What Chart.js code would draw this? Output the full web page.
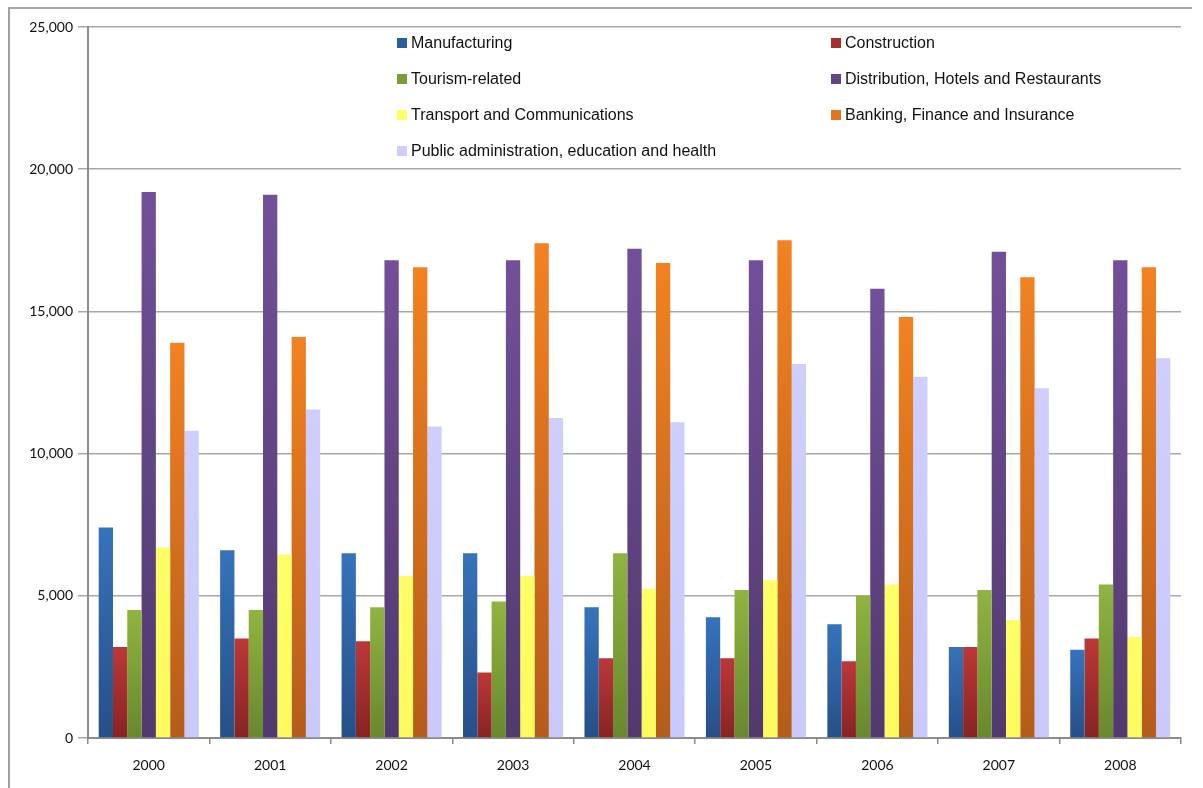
<!DOCTYPE html>
<html>
<head>
<meta charset="utf-8">
<script src="https://cdn.jsdelivr.net/npm/chart.js@4"></script>
<style>
  html, body { margin: 0; padding: 0; background: #fff; }
  #wrap { position: relative; width: 1203px; height: 788px; overflow: hidden; }
  #frame { position: absolute; left: 8px; top: 7px; width: 1182px; height: 800px;
           border-top: 2px solid #a8a8a8; border-left: 2px solid #a0a0a0; }
  canvas { position: absolute; left: 0; top: 0; }
  #legend { position: absolute; left: 397px; top: 33px; width: 720px;
            display: grid; grid-template-columns: 434px 300px; row-gap: 16px;
            font-family: "Liberation Sans", Arial, sans-serif; font-size: 16px; color: #111; }
  #legend div { display: flex; align-items: center; height: 20px; white-space: nowrap; }
  #legend span.box { width: 10px; height: 10px; margin-right: 4px; flex: none; }
</style>
</head>
<body>
<div id="wrap">
  <div id="frame"></div>
  <canvas id="chart" width="1203" height="788"></canvas>
  <div id="legend"></div>
</div>
<script>
const years = ['2000', '2001', '2002', '2003', '2004', '2005', '2006', '2007', '2008'];

const manufacturing = [7400, 6600, 6500, 6500, 4600, 4250, 4000, 3200, 3100];
const construction  = [3200, 3500, 3400, 2300, 2800, 2800, 2700, 3200, 3500];
const tourism       = [4500, 4500, 4600, 4800, 6500, 5200, 5000, 5200, 5400];
const distribution  = [19200, 19100, 16800, 16800, 17200, 16800, 15800, 17100, 16800];
const transport     = [6700, 6450, 5700, 5700, 5250, 5550, 5400, 4150, 3550];
const banking       = [13900, 14100, 16550, 17400, 16700, 17500, 14800, 16200, 16550];
const publicAdmin   = [10800, 11550, 10950, 11250, 11100, 13150, 12700, 12300, 13350];

const yTicks = [0, 5000, 10000, 15000, 20000, 25000];

// excel style shading: lighter at the top of each bar, darker at its foot
function shade(top, bottom) {
  return ctx => {
    const chart = ctx.chart;
    const y = chart.scales.y;
    if (ctx.type !== 'data' || !y) return top;
    const y0 = y.getPixelForValue(ctx.raw);
    const y1 = y.getPixelForValue(0);
    if (!isFinite(y0) || !isFinite(y1) || y0 === y1) return top;
    const g = chart.ctx.createLinearGradient(0, y0, 0, y1);
    g.addColorStop(0, top);
    g.addColorStop(1, bottom);
    return g;
  };
}

const series = [
  { label: 'Manufacturing', data: manufacturing, top: '#3673bb', bottom: '#264f88', key: '#2c5d9e' },
  { label: 'Construction', data: construction, top: '#bc3838', bottom: '#882323', key: '#a62e2e' },
  { label: 'Tourism-related', data: tourism, top: '#8fb440', bottom: '#68882e', key: '#7a9c36' },
  { label: 'Distribution, Hotels and Restaurants', data: distribution, top: '#725099', bottom: '#51396e', key: '#634686' },
  { label: 'Transport and Communications', data: transport, top: '#ffff68', bottom: '#fbfb5e', key: '#ffff66' },
  { label: 'Banking, Finance and Insurance', data: banking, top: '#f28221', bottom: '#b55c1b', key: '#e2761f' },
  { label: 'Public administration, education and health', data: publicAdmin, top: '#ceceff', bottom: '#c9c9fb', key: '#ccccff' }
];

// legend laid out in two columns inside the plot
const legendEl = document.getElementById('legend');
series.forEach(s => {
  const item = document.createElement('div');
  const box = document.createElement('span');
  box.className = 'box';
  box.style.background = s.key;
  item.appendChild(box);
  item.appendChild(document.createTextNode(s.label));
  legendEl.appendChild(item);
});

new Chart(document.getElementById('chart'), {
  type: 'bar',
  data: {
    labels: years,
    datasets: series.map(s => ({
      label: s.label,
      data: s.data,
      backgroundColor: shade(s.top, s.bottom),
      borderWidth: 0,
      categoryPercentage: 0.824,
      barPercentage: 1.0
    }))
  },
  options: {
    responsive: false,
    animation: false,
    layout: { padding: { top: 27, right: 22, left: 0, bottom: 0 } },
    plugins: {
      legend: { display: false },
      tooltip: { enabled: false }
    },
    scales: {
      x: {
        offset: true,
        grid: { offset: true, drawOnChartArea: false, drawTicks: true, tickLength: 6, color: '#8c8c8c', lineWidth: 1.5 },
        border: { color: '#8c8c8c', width: 2 },
        ticks: { color: '#111', font: { family: 'Lato', size: 14 }, padding: 13, maxRotation: 0 },
        afterFit: scale => { scale.height = 50; }
      },
      y: {
        min: 0,
        max: 25000,
        afterBuildTicks: scale => { scale.ticks = yTicks.map(v => ({ value: v })); },
        grid: { color: '#a8a8a8', lineWidth: 1.5, tickLength: 10 },
        border: { color: '#8c8c8c', width: 2 },
        ticks: {
          color: '#111',
          font: { family: 'Lato', size: 14 },
          padding: 5,
          callback: v => v.toLocaleString('en-US')
        },
        afterFit: scale => { scale.width = 88; }
      }
    }
  }
});
</script>
</body>
</html>
